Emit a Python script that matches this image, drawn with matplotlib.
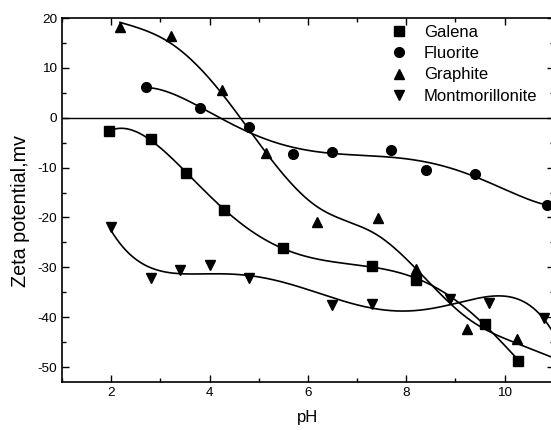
import numpy as np
import matplotlib
matplotlib.use('Agg')
import matplotlib.pyplot as plt
from matplotlib.ticker import MultipleLocator

plt.rcParams['font.family'] = ['Liberation Sans', 'DejaVu Sans']
plt.rcParams['axes.unicode_minus'] = False

# values
galena_ph = [1.96, 2.8, 3.52, 4.3, 5.5, 7.3, 8.19, 9.6, 10.28]
galena_zeta = [-2.7, -4.3, -11.0, -18.5, -26.2, -29.7, -32.5, -41.4, -48.7]

fluorite_ph = [2.7, 3.8, 4.8, 5.69, 6.5, 7.7, 8.4, 9.4, 10.87]
fluorite_zeta = [6.1, 1.9, -1.9, -7.3, -6.8, -6.5, -10.5, -11.3, -17.6]

graphite_ph = [2.18, 3.21, 4.26, 5.14, 6.18, 7.42, 8.2, 9.23, 10.26]
graphite_zeta = [18.1, 16.4, 5.5, -7.1, -20.9, -20.1, -30.4, -42.3, -44.3]

mont_ph = [1.99, 2.81, 3.4, 4.0, 4.81, 6.5, 7.3, 8.89, 9.69, 10.8]
mont_zeta = [-21.9, -32.1, -30.6, -29.6, -32.2, -37.6, -37.3, -36.3, -37.1, -40.1]


def smooth_spline(x, y, lam, xs):
    # cubic smoothing spline (Reinsch), linear beyond the last point
    x = np.asarray(x, float)
    y = np.asarray(y, float)
    n = len(x)
    h = np.diff(x)
    Q = np.zeros((n, n - 2))
    R = np.zeros((n - 2, n - 2))
    for j in range(1, n - 1):
        Q[j - 1, j - 1] = 1 / h[j - 1]
        Q[j, j - 1] = -1 / h[j - 1] - 1 / h[j]
        Q[j + 1, j - 1] = 1 / h[j]
        R[j - 1, j - 1] = (h[j - 1] + h[j]) / 3
        if j < n - 2:
            R[j - 1, j] = R[j, j - 1] = h[j] / 6
    gam = np.linalg.solve(R + lam * Q.T @ Q, Q.T @ y)
    g = y - lam * Q @ gam
    M = np.concatenate([[0], gam, [0]])
    out = np.empty_like(xs)
    for k, t in enumerate(xs):
        i = min(max(np.searchsorted(x, t) - 1, 0), n - 2)
        if t > x[-1]:
            slope = (g[-1] - g[-2]) / h[-1] + h[-1] * M[-2] / 6
            out[k] = g[-1] + slope * (t - x[-1])
            continue
        a, b, hi = t - x[i], x[i + 1] - t, h[i]
        out[k] = (b * g[i] + a * g[i + 1]) / hi \
            - a * b / 6 * ((1 + a / hi) * M[i + 1] + (1 + b / hi) * M[i])
    return out


# name, x, y, marker, polynomial degree (None -> smoothing spline), run curve to x=11
series = [
    ('Galena', galena_ph, galena_zeta, 's', 5, False),
    ('Fluorite', fluorite_ph, fluorite_zeta, 'o', 5, True),
    ('Graphite', graphite_ph, graphite_zeta, '^', None, True),
    ('Montmorillonite', mont_ph, mont_zeta, 'v', 5, True),
]

fig = plt.figure(figsize=(5.51, 4.30), dpi=100)
ax = fig.add_axes([0.1125, 0.1116, 0.8925, 0.8465])

for name, x, y, mk, deg, extend in series:
    xs = np.linspace(x[0], 11 if extend else x[-1], 300)
    if deg is None:
        ys = smooth_spline(x, y, 0.15, xs)
    else:
        ys = np.polyval(np.polyfit(x, y, deg), xs)
    ax.plot(xs, ys, color='black', lw=1.2)
    ax.plot(x, y, linestyle='none', marker=mk, color='black', ms=7, label=name)

ax.axhline(0, color='black', lw=1.0)

ax.set_xlim(1, 11)
ax.set_ylim(-53, 20)
ax.xaxis.set_major_locator(MultipleLocator(2))
ax.xaxis.set_minor_locator(MultipleLocator(1))
ax.yaxis.set_major_locator(MultipleLocator(10))
ax.yaxis.set_minor_locator(MultipleLocator(5))
ax.tick_params(which='both', direction='in', top=True, right=True, labelsize=9.7, width=1.0)
ax.tick_params(which='major', length=5)
ax.tick_params(which='minor', length=3)
for s in ax.spines.values():
    s.set_linewidth(1.2)

ax.set_xlabel('pH', fontsize=12, labelpad=8)
ylab = ax.set_ylabel('Zeta potential,mv', fontsize=12)
ax.yaxis.set_label_coords(-0.065, 0.47)

ax.legend(loc='upper left', bbox_to_anchor=(0.655, 1.0), frameon=False, fontsize=12,
          handlelength=1.0, handletextpad=1.0, labelspacing=0.38, borderaxespad=0)

# size the y label so it spans about 152 px like the original
fig.canvas.draw()
h = ylab.get_window_extent(fig.canvas.get_renderer()).height
ylab.set_fontsize(12 * 152 / h)

fig.savefig('out.png', dpi=100)
